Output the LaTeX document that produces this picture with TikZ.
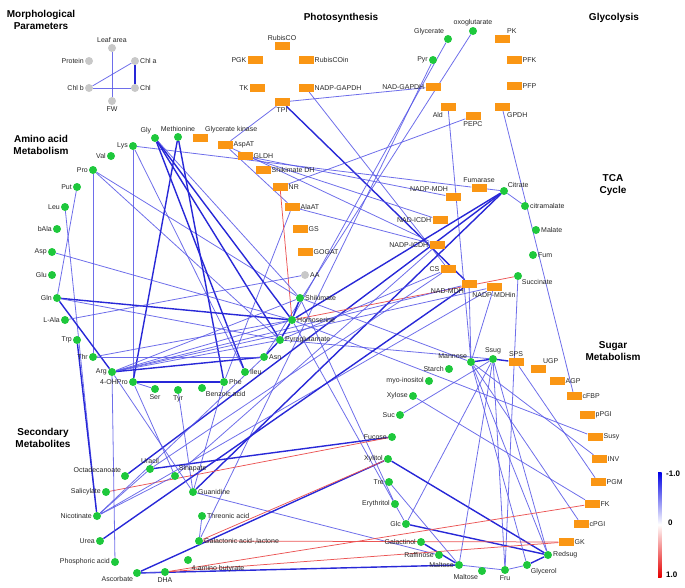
\documentclass[tikz,border=0pt]{standalone}
\usepackage{fontspec}
\setmainfont{Liberation Sans}
\usetikzlibrary{backgrounds}
\definecolor{dotgreen}{RGB}{30,200,60}
\definecolor{dotgray}{RGB}{200,200,200}
\definecolor{orng}{RGB}{250,150,20}
\definecolor{lblue}{RGB}{85,85,230}
\definecolor{dblue}{RGB}{40,40,215}
\definecolor{lred}{RGB}{235,85,85}
\tikzset{
  gdot/.style={circle,fill=dotgreen,minimum size=8pt,inner sep=0pt},
  gydot/.style={circle,fill=dotgray,minimum size=8pt,inner sep=0pt},
  obox/.style={rectangle,fill=orng,minimum width=15pt,minimum height=8pt,inner sep=0pt},
  every label/.style={font=\fontsize{7}{8}\selectfont,inner sep=0.5pt,text=black!85},
  label distance=0.3pt,
  ttl/.style={font=\bfseries\fontsize{10}{12.5}\selectfont,align=center,inner sep=0pt},
  tb/.style={lblue,line width=0.8pt,opacity=0.85},
  kb/.style={dblue,line width=1.4pt},
  rd/.style={lred,line width=0.75pt},
}
\begin{document}
\begin{tikzpicture}[x=1pt,y=-1pt]
\useasboundingbox (0,0) rectangle (685,587);
% titles
\node[ttl] (t1) at (41,20) {Morphological\\Parameters};
\node[ttl] (t2) at (41,145) {Amino acid\\Metabolism};
\node[ttl] (t3) at (43,438) {Secondary\\Metabolites};
\node[ttl] (t4) at (341,18) {Photosynthesis};
\node[ttl] (t5) at (614,18) {Glycolysis};
\node[ttl] (t6) at (613,185) {TCA\\Cycle};
\node[ttl] (t7) at (613,351) {Sugar\\Metabolism};
% morphological
\node[gydot,label=above:Leaf area] (leaf) at (112,48) {};
\node[gydot,label=left:Protein] (protein) at (89,61) {};
\node[gydot,label=right:Chl a] (chla) at (135,61) {};
\node[gydot,label=left:Chl b] (chlb) at (89,88) {};
\node[gydot,label=right:Chl] (chl) at (135,88) {};
\node[gydot,label=below:FW] (fw) at (112,101) {};
% photosynthesis
\node[obox,label=above:RubisCO] (rubisco) at (282,46) {};
\node[obox,label=left:PGK] (pgk) at (255,60) {};
\node[obox,label=right:RubisCOin] (rubiscoin) at (306,60) {};
\node[obox,label=left:TK] (tk) at (257,88) {};
\node[obox,label=right:NADP-GAPDH] (nadpgapdh) at (306,88) {};
\node[obox,label=below:TPI] (tpi) at (282,102) {};
\node[obox,label=left:NAD-GAPDH] (nadgapdh) at (433,87) {};
\node[obox,label=below left:Ald] (ald) at (448,107) {};
% glycolysis
\node[gdot,label=above left:Glycerate] (glycerate) at (448,39) {};
\node[gdot,label=left:Pyr] (pyr) at (433,60) {};
\node[gdot,label=above:oxoglutarate] (oxo) at (473,31) {};
\node[obox,label=above right:PK] (pk) at (502,39) {};
\node[obox,label=right:PFK] (pfk) at (514,60) {};
\node[obox,label=right:PFP] (pfp) at (514,86) {};
\node[obox,label=below right:GPDH] (gpdh) at (502,107) {};
\node[obox,label=below:PEPC] (pepc) at (473,116) {};
% amino acid
\node[obox,label=above right:Glycerate kinase] (glyk) at (200,138) {};
\node[obox,label=right:AspAT] (aspat) at (225,145) {};
\node[obox,label=right:GLDH] (gldh) at (245,156) {};
\node[obox,label=right:Shikimate DH] (shikdh) at (263,170) {};
\node[obox,label=right:NR] (nr) at (280,187) {};
\node[obox,label=right:AlaAT] (alaat) at (292,207) {};
\node[obox,label=right:GS] (gs) at (300,229) {};
\node[obox,label=right:GOGAT] (gogat) at (305,252) {};
\node[gydot,label=right:AA] (aa) at (305,275) {};
\node[gdot,label=right:Shikimate] (shik) at (300,298) {};
\node[gdot,label=right:Homoserine] (homo) at (292,320) {};
\node[gdot,label=right:Pyroglutamate] (pyro) at (280,340) {};
\node[gdot,label=right:Asn] (asn) at (264,357) {};
\node[gdot,label=right:Ileu] (ileu) at (245,372) {};
\node[gdot,label=right:Phe] (phe) at (224,382) {};
\node[gdot,label=below right:Benzoic acid] (benz) at (202,388) {};
\node[gdot,label=below:Tyr] (tyr) at (178,390) {};
\node[gdot,label=below:Ser] (ser) at (155,389) {};
\node[gdot,label=left:4-OHPro] (ohpro) at (133,382) {};
\node[gdot,label=left:Arg] (arg) at (112,372) {};
\node[gdot,label=left:Thr] (thr) at (93,357) {};
\node[gdot,label=left:Trp] (trp) at (77,340) {};
\node[gdot,label=left:L-Ala] (lala) at (65,320) {};
\node[gdot,label=left:Gln] (gln) at (57,298) {};
\node[gdot,label=left:Glu] (glu) at (52,275) {};
\node[gdot,label=left:Asp] (asp) at (52,252) {};
\node[gdot,label=left:bAla] (bala) at (57,229) {};
\node[gdot,label=left:Leu] (leu) at (65,207) {};
\node[gdot,label=left:Put] (put) at (77,187) {};
\node[gdot,label=left:Pro] (pro) at (93,170) {};
\node[gdot,label=left:Val] (val) at (111,156) {};
\node[gdot,label=left:Lys] (lys) at (133,146) {};
\node[gdot,label=above left:Gly] (gly) at (155,138) {};
\node[gdot,label=above:Methionine] (meth) at (178,137) {};
% TCA
\node[obox,label=above:Fumarase] (fumarase) at (479,188) {};
\node[gdot,label=above right:Citrate] (citrate) at (504,191) {};
\node[obox,label=above left:NADP-MDH] (nadpmdh) at (453,197) {};
\node[gdot,label=right:citramalate] (citramalate) at (525,206) {};
\node[obox,label=left:NAD-ICDH] (nadicdh) at (440,220) {};
\node[gdot,label=right:Malate] (malate) at (536,230) {};
\node[obox,label=left:NADP-ICDH] (nadpicdh) at (437,245) {};
\node[gdot,label=right:Fum] (fum) at (533,255) {};
\node[obox,label=left:CS] (cs) at (448,269) {};
\node[obox,label=below left:NAD-MDH] (nadmdh) at (469,284) {};
\node[obox,label=below:NADP-MDHin] (nadpmdhin) at (494,287) {};
\node[gdot,label=below right:Succinate] (succinate) at (518,276) {};
% sugar
\node[gdot,label=above left:Mannose] (mannose) at (471,362) {};
\node[gdot,label=above:Ssug] (ssug) at (493,359) {};
\node[obox,label=above:SPS] (sps) at (516,362) {};
\node[obox,label=above right:UGP] (ugp) at (538,369) {};
\node[obox,label=right:AGP] (agp) at (557,381) {};
\node[gdot,label=left:Starch] (starch) at (449,369) {};
\node[gdot,label=left:myo-inositol] (myo) at (429,381) {};
\node[gdot,label=left:Xylose] (xylose) at (413,396) {};
\node[gdot,label=left:Suc] (suc) at (400,415) {};
\node[obox,label=right:cFBP] (cfbp) at (574,396) {};
\node[obox,label=right:pPGI] (ppgi) at (587,415) {};
\node[obox,label=right:Susy] (susy) at (595,437) {};
\node[obox,label=right:INV] (inv) at (599,459) {};
\node[obox,label=right:PGM] (pgm) at (598,482) {};
\node[obox,label=right:FK] (fk) at (592,504) {};
\node[obox,label=right:cPGI] (cpgi) at (581,524) {};
\node[obox,label=right:GK] (gk) at (566,542) {};
\node[gdot,label=right:Redsug] (redsug) at (548,555) {};
\node[gdot,label=below right:Glycerol] (glycerol) at (527,565) {};
\node[gdot,label=below:Fru] (fru) at (505,570) {};
\node[gdot,label=below left:Maltose] (maltb) at (482,571) {};
\node[gdot,label=left:Maltose] (malta) at (459,565) {};
\node[gdot,label=left:Fucose] (fucose) at (392,437) {};
\node[gdot,label=left:Xylitol] (xylitol) at (388,459) {};
\node[gdot,label=left:Tre] (tre) at (389,482) {};
\node[gdot,label=left:Erythritol] (eryth) at (395,504) {};
\node[gdot,label=left:Glc] (glc) at (406,524) {};
\node[gdot,label=left:Galactinol] (galactinol) at (421,542) {};
\node[gdot,label=left:Raffinose] (raffinose) at (439,555) {};
% secondary
\node[gdot,label=above left:Octadecanoate] (octa) at (125,476) {};
\node[gdot,label=above:Uracil] (uracil) at (150,469) {};
\node[gdot,label=above right:Sinapate] (sinapate) at (175,476) {};
\node[gdot,label=left:Salicylate] (salicylate) at (106,492) {};
\node[gdot,label=right:Guanidine] (guanidine) at (193,492) {};
\node[gdot,label=left:Nicotinate] (nicotinate) at (97,516) {};
\node[gdot,label=right:Threonic acid] (threonic) at (202,516) {};
\node[gdot,label=left:Urea] (urea) at (100,541) {};
\node[gdot,label={right:{Galactonic acid-,lactone}}] (galactonic) at (199,541) {};
\node[gdot,label=left:Phosphoric acid] (phosph) at (115,562) {};
\node[gdot] (aminobut) at (188,560) {};
\node[anchor=west,font=\fontsize{7}{8}\selectfont,inner sep=0.5pt,text=black!85] (aminobutl) at (191,569) {4-amino butyrate};
\node[gdot,label=below left:Ascorbate] (ascorbate) at (137,573) {};
\node[gdot,label=below:DHA] (dha) at (165,572) {};
% legend
\shade[top color=blue!90!black,bottom color=red!90!black,middle color=white] (658,472) rectangle (661.5,577);
\node[font=\bfseries\fontsize{8}{9}\selectfont,anchor=west,inner sep=0pt] (lg1) at (666,474) {-1.0};
\node[font=\bfseries\fontsize{8}{9}\selectfont,anchor=west,inner sep=0pt] (lg2) at (668,523) {0};
\node[font=\bfseries\fontsize{8}{9}\selectfont,anchor=west,inner sep=0pt] (lg3) at (666,575) {1.0};
% edges
\begin{scope}[on background layer]
% morphological
\draw[tb] (leaf) -- (fw);
\draw[tb] (chla) -- (chlb);
\draw[tb] (chlb) -- (chl);
\draw[kb] (chla) -- (chl);
% upper enzymes
\draw[tb] (tpi) -- (nadgapdh);
\draw[tb] (tpi) -- (aspat);
\draw[kb] (tpi) -- (nadmdh);
\draw[tb] (nadpgapdh) -- (cs);
\draw[tb] (glycerate) -- (pyro);
\draw[tb] (pyr) -- (galactonic);
\draw[tb] (oxo) -- (asn);
\draw[tb] (lys) -- (fumarase);
\draw[tb] (pepc) -- (nr);
\draw[tb] (aspat) -- (alaat);
\draw[tb] (aspat) -- (nadpicdh);
\draw[tb] (gldh) -- (nadicdh);
\draw[tb] (gldh) -- (nadpmdh);
\draw[tb] (alaat) -- (nadpicdh);
\draw[tb] (alaat) -- (phe);
\draw[tb] (ald) -- (mannose);
\draw[tb] (gpdh) -- (cfbp);
% TCA
\draw[tb] (citrate) -- (citramalate);
\draw[tb] (citrate) -- (fumarase);
\draw[kb] (citrate) -- (guanidine);
\draw[kb] (citrate) -- (octa);
\draw[tb] (nadmdh) -- (mannose);
\draw[tb] (nadpmdhin) -- (mannose);
\draw[tb] (succinate) -- (fru);
\draw[rd] (homo) -- (succinate);
\draw[rd] (nr) -- (homo);
% sugars
\draw[kb] (mannose) -- (ssug);
\draw[kb] (ssug) -- (sps);
\draw[tb] (homo) -- (susy);
\draw[tb] (mannose) -- (inv);
\draw[tb] (sps) -- (pgm);
\draw[tb] (xylose) -- (fk);
\draw[tb] (mannose) -- (cpgi);
\draw[tb] (suc) -- (ssug);
\draw[kb] (glc) -- (redsug);
\draw[tb] (glc) -- (ssug);
\draw[kb] (xylitol) -- (redsug);
\draw[tb] (tre) -- (malta);
\draw[kb] (galactinol) -- (malta);
\draw[tb] (malta) -- (fru);
\draw[tb] (fru) -- (glycerol);
\draw[kb] (glycerol) -- (redsug);
\draw[tb] (ssug) -- (malta);
\draw[tb] (ssug) -- (fru);
\draw[tb] (ssug) -- (redsug);
\draw[tb] (mannose) -- (glycerol);
\draw[tb] (mannose) -- (redsug);
\draw[tb] (homo) -- (glc);
\draw[tb] (shik) -- (eryth);
\draw[tb] (shik) -- (mannose);
\draw[tb] (pyro) -- (ssug);
% secondary
\draw[kb] (uracil) -- (fucose);
\draw[rd] (salicylate) -- (fucose);
\draw[tb] (nicotinate) -- (uracil);
\draw[tb] (nicotinate) -- (sinapate);
\draw[tb] (nicotinate) -- (asn);
\draw[tb] (nicotinate) -- (nadpmdhin);
\draw[kb] (urea) -- (nadmdh);
\draw[tb] (uracil) -- (cs);
\draw[tb] (sinapate) -- (nadpicdh);
\draw[tb] (arg) -- (guanidine);
\draw[tb] (arg) -- (phosph);
\draw[tb] (ohpro) -- (sinapate);
\draw[tb] (tyr) -- (guanidine);
\draw[tb] (phe) -- (guanidine);
\draw[tb] (threonic) -- (galactonic);
\draw[tb] (guanidine) -- (raffinose);
\draw[kb] (ascorbate) -- (xylitol);
\draw[kb] (ascorbate) -- (malta);
\draw[tb] (ascorbate) -- (dha);
\draw[rd] (galactonic) -- (xylitol);
\draw[rd] (galactonic) -- (gk);
\draw[rd] (dha) -- (fk);
\draw[rd] (dha) -- (gk);
% amino acids
\draw[tb] (pro) -- (thr);
\draw[tb] (pro) -- (pyro);
\draw[tb] (pro) -- (shik);
\draw[tb] (put) -- (gln);
\draw[tb] (leu) -- (nicotinate);
\draw[kb] (trp) -- (nicotinate);
\draw[tb] (lys) -- (ohpro);
\draw[tb] (lys) -- (ileu);
\draw[kb] (gly) -- (homo);
\draw[kb] (gly) -- (pyro);
\draw[kb] (gly) -- (ileu);
\draw[tb] (gly) -- (shik);
\draw[kb] (meth) -- (ohpro);
\draw[kb] (meth) -- (phe);
\draw[kb] (gln) -- (homo);
\draw[tb] (gln) -- (pyro);
\draw[kb] (gln) -- (arg);
\draw[tb] (asp) -- (homo);
\draw[tb] (lala) -- (aa);
\draw[tb] (arg) -- (shik);
\draw[tb] (arg) -- (homo);
\draw[tb] (arg) -- (pyro);
\draw[kb] (arg) -- (asn);
\draw[tb] (arg) -- (nadmdh);
\draw[tb] (arg) -- (nadpmdhin);
\draw[kb] (ohpro) -- (phe);
\draw[tb] (ser) -- (ohpro);
\draw[tb] (thr) -- (asn);
\draw[tb] (thr) -- (homo);
\draw[kb] (asn) -- (pyro);
\draw[kb] (pyro) -- (homo);
\draw[kb] (homo) -- (shik);
\draw[kb] (homo) -- (citrate);
\draw[tb] (pyro) -- (cs);
\end{scope}
\end{tikzpicture}
\end{document}
